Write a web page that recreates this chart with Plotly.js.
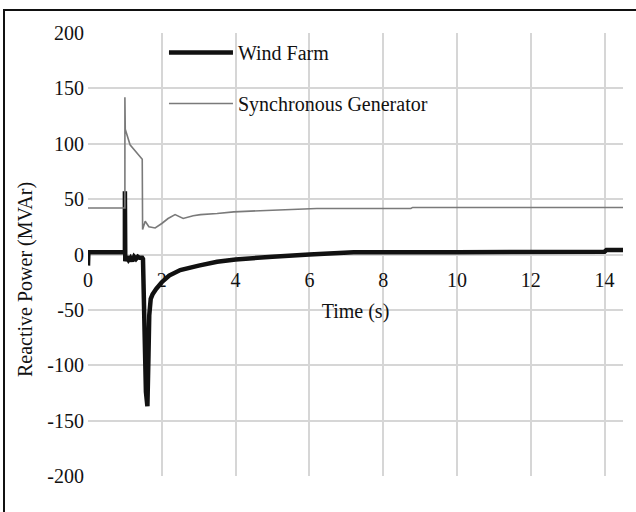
<!DOCTYPE html>
<html>
<head>
<meta charset="utf-8">
<script src="https://cdn.plot.ly/plotly-3.0.1.min.js"></script>
<style>
  html, body { margin: 0; padding: 0; background: #fff; }
  #wrap { position: relative; width: 636px; height: 512px; }
  #chart { width: 636px; height: 512px; }
  #frame { position: absolute; left: 3px; top: 9px; right: 0; bottom: 0;
           border-top: 2px solid #111; border-left: 2px solid #111; pointer-events: none; }
</style>
</head>
<body>
<div id="wrap">
  <div id="chart"></div>
  <div id="frame"></div>
</div>
<script>
// Wind Farm reactive power (MVAr)
const windTime = [0, 0.01, 0.99, 1.0, 1.0, 1.01, 1.05, 1.1, 1.15, 1.2, 1.25, 1.3, 1.35, 1.4, 1.47, 1.49,
  1.57, 1.61, 1.64, 1.66, 1.7, 1.75, 1.85, 2.0, 2.2, 2.5, 3.0, 3.5, 4.0, 4.5, 5.0, 6.0, 7.0, 7.2, 10, 14, 14.05, 14.5];
const windQ = [-10, 2, 2, 2, 57, -6, -2, -5, -3, -6, -2, -4, -2, -3, -3, -4,
  -124, -137, -90, -55, -40, -36, -31, -25, -19, -14, -10, -6.5, -4.5, -3, -2, 0, 1, 2, 2, 2.5, 4, 4];

// Synchronous Generator reactive power (MVAr)
const syncTime = [0, 1.0, 1.0, 1.01, 1.14, 1.3, 1.41, 1.47, 1.48, 1.55, 1.65, 1.82, 2.0, 2.17, 2.36, 2.58, 2.85,
  3.05, 3.5, 3.95, 5.0, 6.2, 8.75, 8.8, 14.5];
const syncQ = [42, 42, 142, 113, 99, 93, 88, 86, 22.5, 30, 25, 24, 28, 32.5, 36, 32.5, 35,
  36, 37, 38.5, 40, 41.5, 41.5, 42.5, 42.5];

const yTickVals = [-200, -150, -100, -50, 0, 50, 100, 150, 200];
const yTickText = ['-200', '-150', '-100', '-50', '0', '50', '100', '150', '200'];
const xTickVals = [0, 2, 4, 6, 8, 10, 12, 14];
const xTickText = ['0', '2', '4', '6', '8', '10', '12', '14'];

const FONT = '"Liberation Serif", serif';
const TXT = { family: FONT, size: 20, color: '#111' };

const traces = [
  { x: windTime, y: windQ, type: 'scatter', mode: 'lines', name: 'Wind Farm',
    legendgroup: 'a', line: { color: '#111', width: 4.5 } },
  { x: syncTime, y: syncQ, type: 'scatter', mode: 'lines', name: 'Synchronous Generator',
    legendgroup: 'b', line: { color: '#7a7a7a', width: 1.6 } }
];

const layout = {
  width: 636, height: 512,
  margin: { l: 88, r: 13, t: 33, b: 36 },
  paper_bgcolor: '#fff', plot_bgcolor: '#fff',
  font: TXT,
  showlegend: true,
  legend: { x: 0.142, y: 1.0, xanchor: 'left', yanchor: 'top', bgcolor: 'rgba(0,0,0,0)',
            font: TXT, itemwidth: 64, tracegroupgap: 22 },
  xaxis: {
    range: [0, 14.5], tickvals: xTickVals, ticktext: xTickText,
    showgrid: true, gridcolor: '#d6d6d6', gridwidth: 2, zeroline: false, showline: false,
    anchor: 'free', position: 0.5, ticks: '', ticklabelstandoff: 11,
    tickfont: TXT,
    title: { text: 'Time (s)', font: TXT, standoff: 14 }
  },
  yaxis: {
    range: [-200, 200], tickvals: yTickVals, ticktext: yTickText,
    showgrid: true, gridcolor: '#d6d6d6', gridwidth: 2, zeroline: false, showline: false,
    ticks: '', ticklabelstandoff: 3, tickfont: TXT
  },
  annotations: [
    { text: 'Reactive Power (MVAr)', xref: 'paper', yref: 'paper', x: (25 - 88) / 535, y: (476 - 280) / 443,
      xanchor: 'center', yanchor: 'middle', textangle: -90, showarrow: false, font: TXT }
  ]
};

Plotly.newPlot('chart', traces, layout, { staticPlot: true, displayModeBar: false });
</script>
</body>
</html>
